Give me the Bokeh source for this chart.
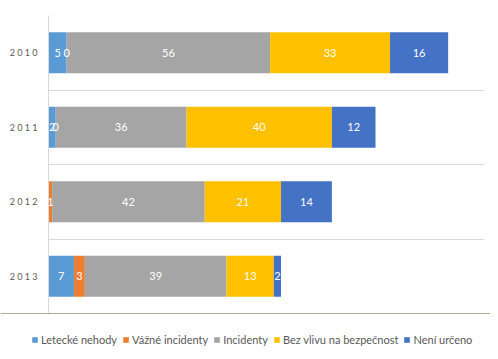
from bokeh.plotting import figure
from bokeh.models import ColumnDataSource, FixedTicker, Legend, LegendItem, LabelSet, Range1d
from bokeh.layouts import column
from bokeh.core.properties import value
from bokeh.embed import file_html
from bokeh.resources import INLINE

years = ["2010", "2011", "2012", "2013"]
year_labels = ["2 0 1 0", "2 0 1 1", "2 0 1 2", "2 0 1 3"]
series = ["Letecké nehody", "Vážné incidenty", "Incidenty", "Bez vlivu na bezpečnost", "Není určeno"]
letecke = [5, 2, 0, 7]
vazne = [0, 0, 1, 3]
incidenty = [56, 36, 42, 39]
bez_vlivu = [33, 40, 21, 13]
neurceno = [16, 12, 14, 2]
# which data labels are shown (2012 "Letecké nehody" has no label)
shown = [[True, True, True, True, True],
         [True, True, True, True, True],
         [False, True, True, True, True],
         [True, True, True, True, True]]
colors = ["#5B9BD5", "#ED7D31", "#A5A5A5", "#FFC000", "#4472C4"]

values = [letecke, vazne, incidenty, bez_vlivu, neurceno]
n = len(years)
ypos = [n - i for i in range(n)]  # 2010 on top

data = {"y": ypos}
keys = ["s0", "s1", "s2", "s3", "s4"]
for k, v in zip(keys, values):
    data[k] = v
source = ColumnDataSource(data)

p = figure(width=490, height=313, x_range=(0, 120), y_range=(0.5, n + 0.5),
           output_backend="svg", toolbar_location=None,
           min_border_left=48, min_border_right=6, min_border_top=15, min_border_bottom=0)
p.outline_line_color = None
p.frame_align = False

rs = p.hbar_stack(keys, y="y", height=0.55, color=colors, source=source, line_color=None)

lx, ly, lt = [], [], []
for i in range(n):
    cum = 0
    for j, v in enumerate(values):
        if shown[i][j]:
            lx.append(cum + v[i] / 2)
            ly.append(ypos[i])
            lt.append(str(v[i]))
        cum += v[i]
lsrc = ColumnDataSource(dict(x=lx, y=ly, t=lt))
p.add_layout(LabelSet(x="x", y="y", text="t", source=lsrc, text_color="white",
                      text_font=value("Lato"), text_font_size="11px", text_align="center",
                      text_baseline="middle"))

p.xaxis.visible = False
p.xgrid.visible = False
p.ygrid.ticker = FixedTicker(ticks=[k + 0.5 for k in range(n + 1)])
p.ygrid.grid_line_color = "#D9D9D9"

p.yaxis.ticker = FixedTicker(ticks=ypos)
p.yaxis.major_label_overrides = {y: lab for y, lab in zip(ypos, year_labels)}
p.yaxis.major_tick_line_color = None
p.yaxis.major_tick_out = 0
p.yaxis.major_tick_in = 0
p.yaxis.minor_tick_line_color = None
p.yaxis.axis_line_color = "#D9D9D9"
p.yaxis.major_label_text_color = "#595959"
p.yaxis.major_label_text_font = "Lato"
p.yaxis.major_label_text_font_size = "9px"
p.yaxis.major_label_standoff = 11

# legend strip below the chart (swatch renderers sit outside the visible range)
p2 = figure(width=490, height=38, x_range=Range1d(0, 1), y_range=Range1d(0, 1),
            output_backend="svg", toolbar_location=None,
            x_axis_location=None, y_axis_location=None,
            min_border_left=0, min_border_right=0, min_border_top=0, min_border_bottom=0)
p2.frame_align = False
p2.outline_line_color = None
p2.xgrid.visible = False
p2.ygrid.visible = False
swsrc = ColumnDataSource(dict(y=[10], r=[1]))
swatches = [p2.hbar(y="y", right="r", height=0.5, color=c, line_color=None, source=swsrc)
            for c in colors]
items = [LegendItem(label=s, renderers=[r]) for s, r in zip(series, swatches)]
legend = Legend(items=items, orientation="horizontal", location=(31, 5),
                glyph_width=7, glyph_height=7, label_standoff=3, spacing=5,
                label_text_font="Lato", label_text_font_size="11px",
                label_text_color="#595959", border_line_color=None,
                background_fill_alpha=0, padding=0, margin=0)
p2.add_layout(legend, "center")

open("out.html", "w").write(file_html(column(p, p2, spacing=0), INLINE))
